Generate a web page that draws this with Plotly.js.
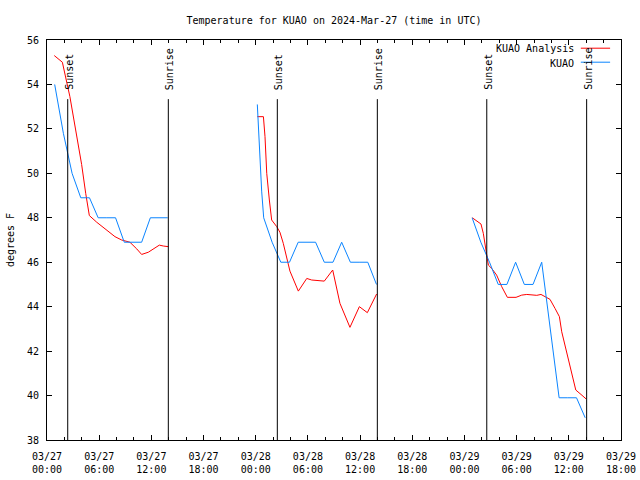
<!DOCTYPE html>
<html>
<head>
<meta charset="utf-8">
<script src="https://cdn.plot.ly/plotly-3.0.1.min.js"></script>
<style>html,body{margin:0;padding:0;background:#fff;}</style>
</head>
<body>
<div id="chart" style="width:640px;height:480px;"></div>
<script>
// KUAO Analysis (red)
const analysisTimes = [
  '2024-03-27 00:50','2024-03-27 01:29','2024-03-27 01:46','2024-03-27 02:38','2024-03-27 03:13',
  '2024-03-27 03:59','2024-03-27 04:27','2024-03-27 04:52','2024-03-27 05:43','2024-03-27 06:40',
  '2024-03-27 07:49','2024-03-27 08:35','2024-03-27 09:32','2024-03-27 10:19','2024-03-27 10:53',
  '2024-03-27 11:39','2024-03-27 12:25','2024-03-27 12:55','2024-03-27 13:22','2024-03-27 13:57',
  '2024-03-27 18:00',
  '2024-03-28 00:11','2024-03-28 00:53','2024-03-28 01:04','2024-03-28 01:16','2024-03-28 01:34',
  '2024-03-28 01:50','2024-03-28 02:25','2024-03-28 02:47','2024-03-28 03:10','2024-03-28 03:56',
  '2024-03-28 04:54','2024-03-28 05:52','2024-03-28 06:26','2024-03-28 07:53','2024-03-28 08:51',
  '2024-03-28 09:41','2024-03-28 10:50','2024-03-28 11:55','2024-03-28 12:50','2024-03-28 13:54',
  '2024-03-28 18:00',
  '2024-03-29 00:54','2024-03-29 01:13','2024-03-29 01:54','2024-03-29 02:10','2024-03-29 02:26',
  '2024-03-29 02:45','2024-03-29 03:08','2024-03-29 03:42','2024-03-29 04:17','2024-03-29 04:56',
  '2024-03-29 05:56','2024-03-29 06:35','2024-03-29 07:10','2024-03-29 08:19','2024-03-29 08:48',
  '2024-03-29 09:16','2024-03-29 09:50','2024-03-29 10:25','2024-03-29 10:55','2024-03-29 11:11',
  '2024-03-29 11:57','2024-03-29 12:25','2024-03-29 12:48','2024-03-29 13:24','2024-03-29 13:59'
];
const analysisTemps = [
  55.3,55.1,55.0,53.45,52.1,
  50.4,49.1,48.1,47.8,47.5,
  47.15,47.0,46.9,46.6,46.35,
  46.45,46.65,46.77,46.73,46.7,
  null,
  52.55,52.55,51.65,50.0,48.8,
  47.9,47.6,47.35,46.85,45.6,
  44.7,45.27,45.2,45.15,45.65,
  44.15,43.07,44.0,43.73,44.57,
  null,
  48.0,47.9,47.72,47.3,46.7,
  45.87,45.72,45.42,44.9,44.42,
  44.42,44.52,44.55,44.51,44.55,
  44.45,44.33,43.92,43.55,42.87,
  41.6,40.85,40.25,40.05,39.85
];

// KUAO observations (blue)
const kuaoTimes = [
  '2024-03-27 00:53','2024-03-27 01:53','2024-03-27 02:53','2024-03-27 03:53','2024-03-27 04:53',
  '2024-03-27 05:53','2024-03-27 06:53','2024-03-27 07:53','2024-03-27 08:53','2024-03-27 09:53',
  '2024-03-27 10:53','2024-03-27 11:53','2024-03-27 12:53','2024-03-27 13:53',
  '2024-03-27 18:00',
  '2024-03-28 00:11','2024-03-28 00:25','2024-03-28 00:41','2024-03-28 00:55','2024-03-28 01:53',
  '2024-03-28 02:53','2024-03-28 03:53','2024-03-28 04:53','2024-03-28 05:53','2024-03-28 06:53',
  '2024-03-28 07:53','2024-03-28 08:53','2024-03-28 09:53','2024-03-28 10:53','2024-03-28 11:53',
  '2024-03-28 12:53','2024-03-28 13:53',
  '2024-03-28 18:00',
  '2024-03-29 00:53','2024-03-29 01:53','2024-03-29 02:53','2024-03-29 03:53','2024-03-29 04:53',
  '2024-03-29 05:53','2024-03-29 06:53','2024-03-29 07:53','2024-03-29 08:53','2024-03-29 09:53',
  '2024-03-29 10:53','2024-03-29 11:53','2024-03-29 12:53','2024-03-29 13:53'
];
const kuaoTemps = [
  54.0,51.8,50.0,48.9,48.9,
  48.0,48.0,48.0,46.9,46.9,
  46.9,48.0,48.0,48.0,
  null,
  53.1,51.0,49.2,48.0,46.9,
  46.0,46.0,46.9,46.9,46.9,
  46.0,46.0,46.9,46.0,46.0,
  46.0,45.0,
  null,
  48.0,46.9,46.0,45.0,45.0,
  46.0,45.0,45.0,46.0,43.0,
  39.9,39.9,39.9,39.0
];

const sunsetTimes = ['2024-03-27 02:23','2024-03-28 02:29','2024-03-29 02:34'];
const sunriseTimes = ['2024-03-27 13:57','2024-03-28 13:59','2024-03-29 14:03'];

const tickVals = ['2024-03-27 00:00','2024-03-27 06:00','2024-03-27 12:00','2024-03-27 18:00',
  '2024-03-28 00:00','2024-03-28 06:00','2024-03-28 12:00','2024-03-28 18:00',
  '2024-03-29 00:00','2024-03-29 06:00','2024-03-29 12:00','2024-03-29 18:00'];
const tickText = ['03/27<br>00:00','03/27<br>06:00','03/27<br>12:00','03/27<br>18:00',
  '03/28<br>00:00','03/28<br>06:00','03/28<br>12:00','03/28<br>18:00',
  '03/29<br>00:00','03/29<br>06:00','03/29<br>12:00','03/29<br>18:00'];

const seriesNames = ['KUAO Analysis', 'KUAO'];
const seriesColors = ['#ff0000', '#0a84ff'];

const FONT = 'DejaVu Sans Mono, monospace';
const LINE_TOP = 53.34;

const traces = [
  {x: analysisTimes, y: analysisTemps, name: seriesNames[0], type: 'scatter', mode: 'lines',
   line: {color: seriesColors[0], width: 1}, connectgaps: false, showlegend: false},
  {x: kuaoTimes, y: kuaoTemps, name: seriesNames[1], type: 'scatter', mode: 'lines',
   line: {color: seriesColors[1], width: 1}, connectgaps: false, showlegend: false}
];

const shapes = [];
const annotations = [];
function addEvent(t, label) {
  shapes.push({type: 'line', xref: 'x', yref: 'y', x0: t, x1: t, y0: 38, y1: LINE_TOP,
    line: {color: '#000', width: 1}});
  annotations.push({x: t, y: 53.66, xref: 'x', yref: 'y', text: label, textangle: -90,
    showarrow: false, xanchor: 'center', yanchor: 'bottom', xshift: 1,
    font: {family: FONT, size: 10, color: '#000'}});
}
sunsetTimes.forEach(t => addEvent(t, 'Sunset'));
sunriseTimes.forEach(t => addEvent(t, 'Sunrise'));

// gnuplot-style key (text left, sample right)
const keyY = [0.9775, 0.9425];
seriesNames.forEach((n, i) => {
  annotations.push({xref: 'paper', yref: 'paper', x: 0.921, y: keyY[i], text: n,
    showarrow: false, xanchor: 'right', yanchor: 'middle',
    font: {family: FONT, size: 10, color: '#000'}});
  shapes.push({type: 'line', xref: 'paper', yref: 'paper', x0: 0.930, x1: 0.981,
    y0: keyY[i] + 0.002, y1: keyY[i] + 0.002, line: {color: seriesColors[i], width: 1}});
});

const layout = {
  width: 640, height: 480,
  margin: {l: 47, r: 19, t: 40, b: 40},
  paper_bgcolor: '#fff', plot_bgcolor: '#fff',
  font: {family: FONT, size: 10, color: '#000'},
  title: {text: 'Temperature for KUAO on 2024-Mar-27 (time in UTC)',
    x: 0.5, xref: 'paper', y: 0.958, yref: 'container', yanchor: 'middle',
    font: {family: FONT, size: 10, color: '#000'}},
  xaxis: {
    type: 'date', range: ['2024-03-27 00:00', '2024-03-29 18:00'],
    tickmode: 'array', tickvals: tickVals, ticktext: tickText,
    ticks: 'inside', ticklen: 5, tickcolor: '#000', tickwidth: 1,
    showline: true, linecolor: '#000', linewidth: 1, mirror: 'ticks',
    showgrid: false, zeroline: false, ticklabelstandoff: 7,
    minor: {dtick: 7200000, tick0: '2024-03-27 00:00', ticks: 'inside', ticklen: 3,
      tickcolor: '#000', showgrid: false},
    tickfont: {family: FONT, size: 10, color: '#000'}
  },
  yaxis: {
    range: [38, 56], dtick: 2, tick0: 38,
    ticks: 'inside', ticklen: 5, tickcolor: '#000', tickwidth: 1,
    showline: true, linecolor: '#000', linewidth: 1, mirror: 'ticks',
    showgrid: false, zeroline: false, ticklabelstandoff: 5,
    title: {text: 'degrees F', standoff: 10, font: {family: FONT, size: 10, color: '#000'}},
    tickfont: {family: FONT, size: 10, color: '#000'}
  },
  shapes: shapes,
  annotations: annotations,
  showlegend: false
};

Plotly.newPlot('chart', traces, layout, {staticPlot: true, displayModeBar: false});
</script>
</body>
</html>
